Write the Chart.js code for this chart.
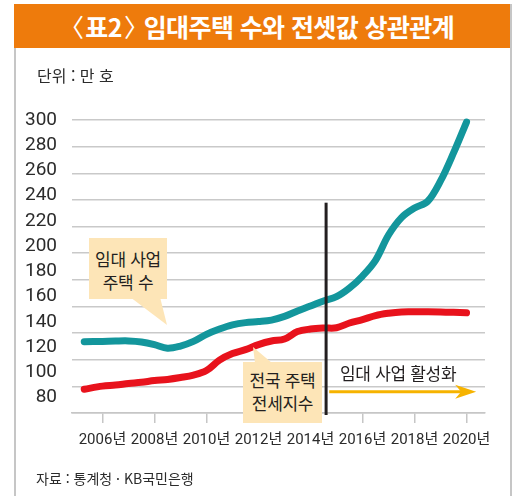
<!DOCTYPE html>
<html lang="ko">
<head>
<meta charset="utf-8">
<script src="https://cdn.jsdelivr.net/npm/chart.js@4.4.1/dist/chart.umd.min.js"></script>
<style>
  html, body { margin: 0; padding: 0; background: #fff; }
  #wrap { position: relative; width: 520px; height: 496px; overflow: hidden; font-family: 'Noto Sans CJK KR', sans-serif; color: #231f20; }
  #chart { position: absolute; left: 0; top: 0; }
  .panel { position: absolute; left: 14px; top: 4px; width: 494px; height: 500px; border-left: 2px solid #c6c6c6; border-right: 2px solid #c6c6c6; }
  .titlebar { position: absolute; left: 14px; top: 4px; width: 496px; height: 44px; background: #ee7b0c; color: #fff; font-weight: bold; font-size: 25px; line-height: 44px; text-align: center; letter-spacing: -0.6px; }
  .titlebar .bl { display: inline-block; margin: 0 2px 0 -11px; font-weight: normal; }
  .titlebar .br { display: inline-block; margin: 0 -11px 0 2px; font-weight: normal; }
  .unit { position: absolute; left: 37px; top: 64px; font-size: 16px; line-height: 22px; color: #2b2b2b; }
  .source { position: absolute; left: 36px; top: 468px; font-size: 14px; line-height: 20px; color: #2b2b2b; }
  .callout { position: absolute; background: #fde5b7; font-size: 17px; line-height: 23px; text-align: center; box-sizing: border-box; letter-spacing: -0.3px; }
  .pointer { position: absolute; background: #fde5b7; }
  .note { position: absolute; font-size: 17px; line-height: 22px; white-space: nowrap; letter-spacing: -0.3px; }
</style>
</head>
<body>
<div id="wrap">
  <div class="panel"></div>
  <canvas id="chart" width="520" height="496"></canvas>
  <div class="titlebar"><span class="bl">〈</span>표2<span class="br">〉</span> 임대주택 수와 전셋값 상관관계</div>
  <div class="unit">단위 : 만 호</div>

  <div class="pointer" style="left:128px; top:297px; width:40px; height:29px; clip-path: polygon(2px 0, 32px 0, 39px 28px);"></div>
  <div class="callout" style="left:89px; top:238px; width:78px; height:61px; padding-top:9px;">임대 사업<br>주택 수</div>

  <div class="pointer" style="left:252px; top:347px; width:22px; height:17px; clip-path: polygon(1px 0, 20px 16px, 3px 16px);"></div>
  <div class="callout" style="left:243px; top:362px; width:79px; height:61px; padding-top:6px;">전국 주택<br>전세지수</div>

  <div class="note" style="left:340px; top:362px;">임대 사업 활성화</div>
  <div class="source">자료 : 통계청 · KB국민은행</div>
</div>

<script>
// 연도(소수점 = 연중 시점)
const years = [2005.3, 2006, 2006.5, 2007, 2007.5, 2008, 2008.5, 2009, 2009.5, 2010,
  2010.5, 2011, 2011.5, 2012, 2012.5, 2013, 2013.5, 2014, 2014.5, 2015,
  2015.5, 2016, 2016.5, 2017, 2017.5, 2018, 2018.5, 2019, 2019.5, 2020];

// 임대 사업 주택 수 (만 호)
const rentalHomes = [124.3, 124.6, 124.9, 125.0, 124.2, 122.1, 119.2, 120.9, 124.6, 130.2,
  134.4, 137.7, 139.5, 140.3, 141.5, 144.4, 148.7, 152.6, 156.6, 160.0,
  166.9, 176.4, 188.8, 208.9, 222.7, 230.3, 235.4, 251.7, 273.9, 298.4];

// 전국 주택 전세지수
const jeonseIndex = [86.7, 89.2, 90.0, 91.2, 92.2, 93.6, 94.5, 96.0, 97.9, 101.5,
  109.8, 115.0, 118.1, 122.1, 124.9, 126.5, 132.4, 134.4, 135.2, 135.4,
  139.2, 141.9, 145.1, 146.9, 148.0, 148.1, 148.1, 148.0, 147.7, 147.3];

const xTicks = [2006, 2008, 2010, 2012, 2014, 2016, 2018, 2020];
const yTicks = [80, 100, 120, 140, 160, 180, 200, 220, 240, 260, 280, 300];

const policyYear = 2014.6;   // 세로 기준선
const arrowFrom = 2014.72, arrowTo = 2020.37, arrowLevel = 84.7;
const lineTop = 234.5;

const numFont = "'Liberation Sans Narrow', 'Roboto', 'Noto Sans CJK KR', sans-serif";

const markers = {
  id: 'markers',
  afterDatasetsDraw(chart) {
    const { ctx, scales: { x, y }, chartArea } = chart;
    ctx.save();
    // 기준선
    const px = x.getPixelForValue(policyYear);
    ctx.strokeStyle = '#231f20';
    ctx.lineWidth = 3;
    ctx.beginPath();
    ctx.moveTo(px, y.getPixelForValue(lineTop));
    ctx.lineTo(px, chartArea.bottom + 2);
    ctx.stroke();
    // 화살표
    const ay = y.getPixelForValue(arrowLevel);
    const ax1 = x.getPixelForValue(arrowFrom);
    const ax2 = x.getPixelForValue(arrowTo);
    ctx.strokeStyle = '#f6b300';
    ctx.fillStyle = '#f6b300';
    ctx.lineWidth = 3;
    ctx.beginPath();
    ctx.moveTo(ax1, ay);
    ctx.lineTo(ax2 - 14, ay);
    ctx.stroke();
    ctx.beginPath();
    ctx.moveTo(ax2, ay);
    ctx.lineTo(ax2 - 21, ay - 7);
    ctx.lineTo(ax2 - 15, ay);
    ctx.lineTo(ax2 - 21, ay + 7);
    ctx.closePath();
    ctx.fill();
    ctx.restore();
  }
};

const ctx = document.getElementById('chart').getContext('2d');
new Chart(ctx, {
  type: 'line',
  data: {
    datasets: [{
      label: '임대 사업 주택 수',
      data: years.map((yr, i) => ({ x: yr, y: rentalHomes[i] })),
      borderColor: '#13969c',
      borderWidth: 7,
      tension: 0.35,
      pointRadius: 0,
      borderCapStyle: 'round',
      borderJoinStyle: 'round',
      clip: false
    }, {
      label: '전국 주택 전세지수',
      data: years.map((yr, i) => ({ x: yr, y: jeonseIndex[i] })),
      borderColor: '#e8121c',
      borderWidth: 7,
      tension: 0.35,
      pointRadius: 0,
      borderCapStyle: 'round',
      borderJoinStyle: 'round',
      clip: false
    }]
  },
  options: {
    responsive: false,
    animation: false,
    devicePixelRatio: 1,
    layout: { padding: { top: 120, right: 35, bottom: 0, left: 0 } },
    plugins: { legend: { display: false }, tooltip: { enabled: false } },
    scales: {
      x: {
        type: 'linear',
        min: 2004.83,
        max: 2020.71,
        afterBuildTicks: s => { s.ticks = xTicks.map(v => ({ value: v })); },
        afterFit: s => { s.height = 83; },
        grid: { drawOnChartArea: false, drawTicks: true, tickLength: 10, color: '#c6c6c6', lineWidth: 1.5 },
        border: { display: true, color: '#c6c6c6', width: 1.5 },
        ticks: {
          autoSkip: false, maxRotation: 0, padding: 8,
          color: '#2b2b2b',
          font: { family: numFont, size: 15 },
          callback: v => v + '년'
        }
      },
      y: {
        position: 'left',
        min: 67.9,
        max: 300,
        afterBuildTicks: s => { s.ticks = yTicks.map(v => ({ value: v })); },
        afterFit: s => { s.width = 72; },
        grid: { display: false },
        border: { display: false },
        ticks: { padding: 7, color: '#2b2b2b', font: { family: numFont, size: 19 } }
      },
      yg: {
        position: 'right',
        min: 80,
        max: 300,
        afterBuildTicks: s => { s.ticks = yTicks.map(v => ({ value: v })); },
        afterFit: s => { s.width = 0; },
        grid: { color: '#c9c9c9', lineWidth: 1.5, drawTicks: false },
        border: { display: false },
        ticks: { display: false }
      }
    }
  },
  plugins: [markers]
});
</script>
</body>
</html>
